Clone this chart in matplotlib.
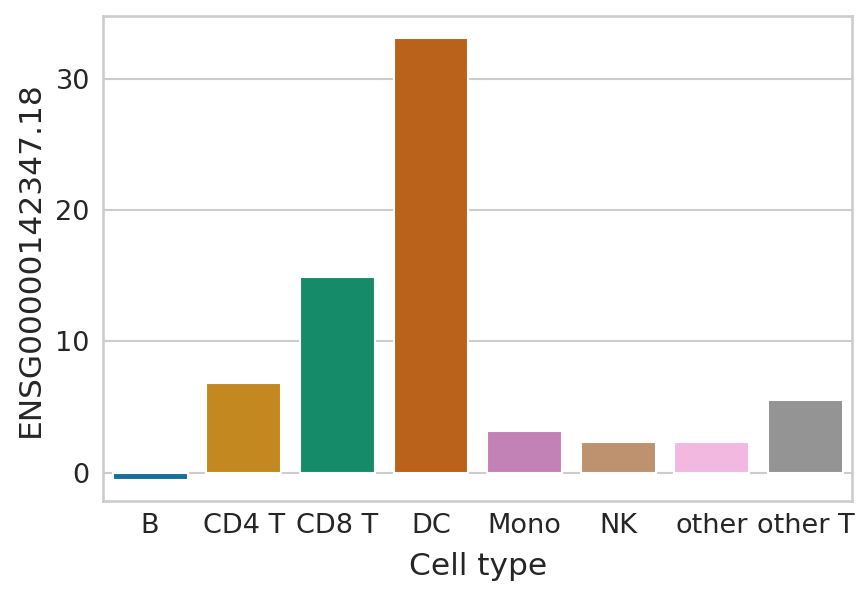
import matplotlib
matplotlib.use("Agg")
import matplotlib.pyplot as plt
import seaborn as sns
import pandas as pd

cell_types = ["B", "CD4 T", "CD8 T", "DC", "Mono", "NK", "other", "other T"]
expr = [-0.55, 6.85, 14.9, 33.1, 3.2, 2.36, 2.36, 5.55]
gene = "ENSG00000142347.18"

sns.set_theme(style="whitegrid")
df = pd.DataFrame({"Cell type": cell_types, gene: expr})

fig, ax = plt.subplots(figsize=(868/150, 597/150), dpi=150)
sns.barplot(data=df, x="Cell type", y=gene, hue="Cell type",
            palette="colorblind", legend=False, ax=ax)
ax.set_xlabel("Cell type", fontsize=15, labelpad=6.5)
ax.set_ylabel(gene, fontsize=15, labelpad=5)
ax.tick_params(axis="x", labelsize=13, pad=5.5, length=0)
ax.tick_params(axis="y", labelsize=13, pad=6.5, length=0)
ax.set_yticks([0, 10, 20, 30])
ax.set_ylim(-2.2, 34.8)
fig.subplots_adjust(left=0.119, right=0.982, top=0.973, bottom=0.16)
fig.savefig("out.png", dpi=150)
